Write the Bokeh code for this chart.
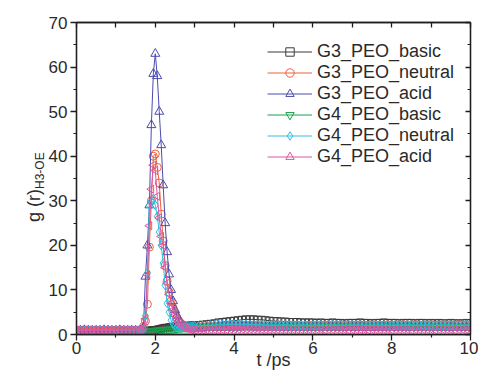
import math
from bokeh.plotting import figure
from bokeh.models import Range1d, LinearAxis, FixedTicker, Div
from bokeh.layouts import row
from bokeh.embed import file_html
from bokeh.resources import INLINE

# ---------------- data ----------------
t_head = [0.0, 0.1, 0.2, 0.3, 0.4, 0.5, 0.6, 0.7, 0.8, 0.9, 1.0, 1.1, 1.2, 1.3, 1.4, 1.5, 1.6]
t_peak = [1.65, 1.70, 1.75, 1.80, 1.85, 1.90, 1.95, 2.00, 2.05, 2.10, 2.15, 2.20, 2.25, 2.30,
          2.35, 2.40, 2.45, 2.50, 2.55, 2.60, 2.65, 2.70, 2.75, 2.80, 2.85, 2.90, 2.95, 3.00]
t_tail = [3.1, 3.2, 3.3, 3.4, 3.5, 3.6, 3.7, 3.8, 3.9, 4.0,
          4.1, 4.2, 4.3, 4.4, 4.5, 4.6, 4.7, 4.8, 4.9, 5.0,
          5.1, 5.2, 5.3, 5.4, 5.5, 5.6, 5.7, 5.8, 5.9, 6.0,
          6.1, 6.2, 6.3, 6.4, 6.5, 6.6, 6.7, 6.8, 6.9, 7.0,
          7.1, 7.2, 7.3, 7.4, 7.5, 7.6, 7.7, 7.8, 7.9, 8.0,
          8.1, 8.2, 8.3, 8.4, 8.5, 8.6, 8.7, 8.8, 8.9, 9.0,
          9.1, 9.2, 9.3, 9.4, 9.5, 9.6, 9.7, 9.8, 9.9, 10.0]
t = t_head + t_peak + t_tail

g3_basic = ([0.8, 0.8, 0.9, 0.8, 0.8, 0.8, 0.8, 0.9, 0.8, 0.8, 0.8, 0.8, 0.9, 0.8, 0.8, 0.8, 0.8]
            + [0.8, 0.8, 0.8, 0.8, 0.9, 0.9, 1.0, 1.0, 1.1, 1.2, 1.3, 1.4, 1.5, 1.5, 1.6, 1.7, 1.7,
               1.8, 1.8, 1.8, 1.9, 1.9, 1.9, 1.9, 2.0, 2.0, 2.0, 2.0]
            + [2.1, 2.2, 2.3, 2.4, 2.5, 2.7, 2.8, 2.9, 3.0, 3.1,
               3.2, 3.3, 3.4, 3.4, 3.4, 3.3, 3.3, 3.2, 3.1, 3.0,
               3.0, 2.9, 2.9, 2.8, 2.8, 2.8, 2.7, 2.7, 2.7, 2.7,
               2.6, 2.7, 2.6, 2.6, 2.7, 2.6, 2.6, 2.5, 2.6, 2.6,
               2.6, 2.7, 2.6, 2.6, 2.5, 2.6, 2.6, 2.7, 2.6, 2.6,
               2.6, 2.5, 2.6, 2.6, 2.6, 2.5, 2.6, 2.6, 2.5, 2.6,
               2.5, 2.6, 2.5, 2.5, 2.6, 2.5, 2.5, 2.5, 2.6, 2.5])

g3_neutral = ([0.9, 0.9, 0.9, 1.0, 0.9, 0.9, 0.9, 0.9, 1.0, 0.9, 0.9, 0.9, 0.9, 0.9, 1.0, 0.9, 0.9]
              + [1.2, 1.8, 3.0, 6.8, 19.6, 30.0, 40.0, 40.5, 37.5, 34.0, 27.0, 21.0, 15.5, 12.0,
                 9.5, 7.5, 6.0, 4.8, 3.8, 3.0, 2.5, 2.1, 1.8, 1.7, 1.6, 1.6, 1.6, 1.6]
              + [1.7, 1.7, 1.8, 1.8, 1.8, 1.9, 1.9, 1.9, 2.0, 2.0,
                 2.0, 2.1, 2.1, 2.1, 2.1, 2.1, 2.0, 2.0, 2.0, 2.0,
                 2.0, 2.1, 2.0, 2.0, 2.0, 2.1, 2.0, 2.0, 2.1, 2.0,
                 2.1, 2.0, 2.1, 2.1, 2.0, 2.1, 2.1, 2.0, 2.1, 2.1,
                 2.1, 2.2, 2.1, 2.1, 2.1, 2.2, 2.1, 2.1, 2.2, 2.1,
                 2.1, 2.1, 2.2, 2.1, 2.1, 2.2, 2.1, 2.1, 2.1, 2.2,
                 2.1, 2.1, 2.2, 2.1, 2.1, 2.1, 2.2, 2.1, 2.1, 2.1])

g3_acid = ([0.9, 0.9, 1.0, 0.9, 0.9, 0.9, 0.9, 1.0, 0.9, 0.9, 0.9, 1.0, 0.9, 0.9, 0.9, 0.9, 0.9]
           + [1.0, 1.5, 13.0, 20.0, 29.0, 47.0, 58.5, 63.0, 58.0, 50.0, 42.5, 33.5, 25.0, 18.5,
              13.5, 10.0, 7.5, 5.5, 4.2, 3.2, 2.5, 2.0, 1.7, 1.5, 1.4, 1.4, 1.4, 1.4]
           + [1.4, 1.4, 1.5, 1.5, 1.5, 1.5, 1.6, 1.6, 1.6, 1.6,
              1.6, 1.7, 1.7, 1.7, 1.6, 1.6, 1.6, 1.6, 1.6, 1.6,
              1.6, 1.6, 1.5, 1.6, 1.6, 1.5, 1.6, 1.6, 1.5, 1.6,
              1.5, 1.6, 1.5, 1.5, 1.6, 1.5, 1.5, 1.6, 1.5, 1.5,
              1.6, 1.5, 1.5, 1.5, 1.6, 1.5, 1.5, 1.5, 1.6, 1.5,
              1.5, 1.5, 1.6, 1.5, 1.5, 1.5, 1.5, 1.6, 1.5, 1.5,
              1.5, 1.6, 1.5, 1.5, 1.5, 1.5, 1.6, 1.5, 1.5, 1.5])

g4_basic = ([0.6, 0.6, 0.6, 0.6, 0.6, 0.6, 0.6, 0.6, 0.6, 0.6, 0.6, 0.6, 0.6, 0.6, 0.6, 0.6, 0.6]
            + [0.6, 0.6, 0.6, 0.6, 0.7, 0.7, 0.8, 0.8, 0.9, 0.9, 1.0, 1.0, 1.0, 1.1, 1.1, 1.2,
               1.2, 1.3, 1.3, 1.4, 1.4, 1.5, 1.5, 1.5, 1.6, 1.6, 1.6, 1.7]
            + [1.7, 1.7, 1.7, 1.8, 1.8, 1.8, 1.8, 1.9, 1.9, 1.9,
               1.9, 1.9, 1.9, 1.9, 1.9, 1.9, 1.9, 1.9, 1.9, 1.9,
               1.9, 1.9, 1.9, 1.8, 1.9, 1.9, 1.9, 1.8, 1.9, 1.9,
               1.9, 1.8, 1.9, 1.9, 1.9, 1.9, 1.8, 1.9, 1.9, 1.9,
               1.9, 1.9, 1.8, 1.9, 1.9, 1.9, 1.9, 1.9, 1.8, 1.9,
               1.9, 1.9, 1.9, 1.9, 1.8, 1.9, 1.9, 1.9, 1.9, 1.9,
               1.8, 1.9, 1.9, 1.9, 1.9, 1.9, 1.9, 1.8, 1.9, 1.9])

g4_neutral = ([0.9, 0.9, 0.9, 0.9, 1.0, 0.9, 0.9, 0.9, 0.9, 0.9, 1.0, 0.9, 0.9, 0.9, 0.9, 0.9, 1.0]
              + [1.0, 1.2, 4.2, 13.8, 29.0, 30.0, 30.5, 29.0, 26.5, 23.0, 20.0, 16.0, 11.0, 7.0,
                 5.0, 3.2, 2.4, 1.9, 1.6, 1.5, 1.5, 1.6, 1.6, 1.7, 1.7, 1.8, 1.8, 1.9]
              + [1.9, 2.0, 2.0, 2.1, 2.1, 2.2, 2.2, 2.2, 2.3, 2.3,
                 2.3, 2.3, 2.3, 2.2, 2.2, 2.2, 2.2, 2.1, 2.1, 2.1,
                 2.1, 2.1, 2.1, 2.1, 2.0, 2.1, 2.1, 2.1, 2.0, 2.1,
                 2.1, 2.1, 2.0, 2.1, 2.1, 2.1, 2.1, 2.0, 2.1, 2.1,
                 2.1, 2.1, 2.1, 2.0, 2.1, 2.1, 2.1, 2.1, 2.1, 2.0,
                 2.1, 2.1, 2.1, 2.1, 2.1, 2.0, 2.1, 2.1, 2.1, 2.1,
                 2.0, 2.1, 2.1, 2.1, 2.1, 2.1, 2.0, 2.1, 2.1, 2.1])

g4_acid = ([1.0, 1.0, 1.0, 1.0, 1.0, 1.0, 1.0, 1.0, 1.0, 1.0, 1.0, 1.0, 1.0, 1.0, 1.0, 1.0, 1.0]
           + [1.1, 1.5, 3.5, 13.4, 24.4, 32.6, 38.0, 36.8, 31.0, 26.2, 22.0, 20.0, 15.0, 11.5,
              9.0, 7.0, 5.5, 4.3, 3.4, 2.7, 2.2, 1.8, 1.5, 1.3, 1.2, 1.1, 1.1, 1.0]
           + [1.0, 1.0, 1.0, 1.1, 1.1, 1.1, 1.1, 1.1, 1.2, 1.2,
              1.2, 1.2, 1.2, 1.2, 1.2, 1.2, 1.1, 1.1, 1.1, 1.1,
              1.1, 1.1, 1.1, 1.1, 1.1, 1.1, 1.1, 1.1, 1.1, 1.1,
              1.1, 1.1, 1.0, 1.1, 1.1, 1.1, 1.1, 1.1, 1.0, 1.1,
              1.1, 1.1, 1.1, 1.0, 1.1, 1.1, 1.1, 1.1, 1.1, 1.0,
              1.1, 1.1, 1.1, 1.1, 1.0, 1.1, 1.1, 1.1, 1.1, 1.1,
              1.0, 1.1, 1.1, 1.1, 1.1, 1.0, 1.1, 1.1, 1.1, 1.1])

series_names = ["G3_PEO_basic", "G3_PEO_neutral", "G3_PEO_acid",
                "G4_PEO_basic", "G4_PEO_neutral", "G4_PEO_acid"]
series_values = [g3_basic, g3_neutral, g3_acid, g4_basic, g4_neutral, g4_acid]

x_ticks = [0, 2, 4, 6, 8, 10]
x_minor = [1, 3, 5, 7, 9]
y_ticks = [0, 10, 20, 30, 40, 50, 60, 70]
y_minor = [5, 15, 25, 35, 45, 55, 65]
x_title = "t /ps"
y_title = "g (r)"
y_title_sub = "H3-OE"

# ---------------- styles ----------------
colors = ["#3a3a3a", "#f0603a", "#4b4bb0", "#19a04a", "#2cc0e0", "#dd56a4"]
markers = ["square", "circle", "triangle", "inverted_triangle", "diamond", "triangle"]
angles = [0, 0, 0, 0, 0, math.pi / 2]
sizes = [7, 8, 9, 8, 9, 8]

FONT = "Liberation Sans"
TXT = "#2a2a2a"
AX = "#1e1e1e"
W_LAB = 45
W, H = 478, 372

# ---- rotated y title (real text, rotated with CSS) ----
ytitle_html = (
    '<div style="white-space:nowrap; font-family:\'Liberation Sans\', Arial, sans-serif; '
    'font-size:18px; line-height:18px; color:%s; transform-origin:0 0; '
    'transform:translate(25px, 222px) rotate(-90deg);">%s'
    '<sub style="font-size:12px; line-height:0; vertical-align:-4px;">%s</sub></div>'
    % (TXT, y_title, y_title_sub))
ylab = Div(text=ytitle_html, width=W_LAB, height=H, margin=0,
           styles={"overflow": "visible", "margin": "0", "padding": "0"})

# ---- main chart ----
p = figure(width=W - W_LAB, height=H, output_backend="svg", toolbar_location=None,
           x_range=Range1d(0, 10), y_range=Range1d(0, 70),
           min_border_left=74 - W_LAB, min_border_right=8, min_border_top=22,
           min_border_bottom=38, margin=0)
p.xgrid.visible = False
p.ygrid.visible = False
p.outline_line_color = AX
p.outline_line_width = 1.3
p.background_fill_color = "white"
p.border_fill_color = "white"

for name, vals, c, m, a, s in zip(series_names, series_values, colors, markers, angles, sizes):
    p.line(t, vals, line_color=c, line_width=1, legend_label=name)
    p.scatter(t, vals, marker=m, angle=a, size=s, line_color=c, line_width=1,
              fill_alpha=0, legend_label=name)

def style_axis(ax, labels=True, inward=False):
    ax.axis_line_color = AX
    ax.axis_line_width = 1.3
    ax.major_tick_line_color = AX
    ax.minor_tick_line_color = AX
    ax.major_tick_line_width = 1.3
    ax.minor_tick_line_width = 1.2
    if inward:
        ax.major_tick_in = 5
        ax.major_tick_out = 0
        ax.minor_tick_in = 3
        ax.minor_tick_out = 0
    else:
        ax.major_tick_in = 0
        ax.major_tick_out = 6
        ax.minor_tick_in = 0
        ax.minor_tick_out = 3
    if labels:
        ax.major_label_text_font = FONT
        ax.major_label_text_font_size = "17px"
        ax.major_label_text_color = TXT
    else:
        ax.major_label_text_font_size = "0px"
        ax.major_label_standoff = 0
        ax.axis_label = None

p.xaxis.ticker = FixedTicker(ticks=x_ticks, minor_ticks=x_minor)
p.yaxis.ticker = FixedTicker(ticks=y_ticks, minor_ticks=y_minor)
style_axis(p.xaxis[0])
style_axis(p.yaxis[0])
p.xaxis.major_label_standoff = 1
p.yaxis.major_label_standoff = 3
p.xaxis.axis_label = x_title
p.xaxis.axis_label_text_font = FONT
p.xaxis.axis_label_text_font_size = "18px"
p.xaxis.axis_label_text_font_style = "normal"
p.xaxis.axis_label_text_color = TXT
p.xaxis.axis_label_standoff = -7

top = LinearAxis(ticker=FixedTicker(ticks=[0, 1, 2, 3, 4, 5, 6, 7, 8, 9, 10], minor_ticks=[]))
style_axis(top, labels=False, inward=True)
p.add_layout(top, "above")
right = LinearAxis(ticker=FixedTicker(ticks=y_ticks, minor_ticks=y_minor))
style_axis(right, labels=False, inward=True)
p.add_layout(right, "right")

lg = p.legend[0]
lg.location = (191, 167)
lg.border_line_color = None
lg.background_fill_alpha = 0
lg.padding = 0
lg.margin = 0
lg.spacing = 0
lg.label_height = 21
lg.glyph_height = 21
lg.glyph_width = 45
lg.label_standoff = 5
lg.label_text_font = FONT
lg.label_text_font_size = "18px"
lg.label_text_color = TXT

layout = row(ylab, p, spacing=0, margin=0)
open("out.html", "w").write(file_html(layout, INLINE))
